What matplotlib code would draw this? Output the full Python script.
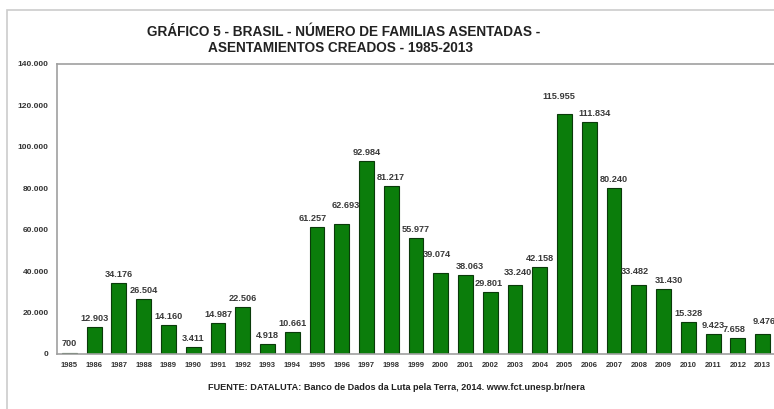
import matplotlib.pyplot as plt
from matplotlib.patches import Rectangle

anios = ["1985", "1986", "1987", "1988", "1989", "1990", "1991", "1992", "1993", "1994",
         "1995", "1996", "1997", "1998", "1999", "2000", "2001", "2002", "2003", "2004",
         "2005", "2006", "2007", "2008", "2009", "2010", "2011", "2012", "2013"]
familias = [700, 12903, 34176, 26504, 14160, 3411, 14987, 22506, 4918, 10661,
            61257, 62693, 92984, 81217, 55977, 39074, 38063, 29801, 33240, 42158,
            115955, 111834, 80240, 33482, 31430, 15328, 9423, 7658, 9476]
yticks = [0, 20000, 40000, 60000, 80000, 100000, 120000, 140000]

# ajustes de etiquetas (puntos) para que no se monten, como en el original
ajuste = {"1995": (-3, 0), "1996": (3, 7), "2000": (-3, 7), "2001": (3, 0),
          "2002": (-1, 0), "2003": (2, 3),
          "2005": (-4, 6), "2006": (4, 0), "2008": (-3, 3), "2009": (4, 0),
          "2012": (-3, 0), "2013": (1, 3)}


def miles(v):
    # separador de miles con punto
    return f"{v:,}".replace(",", ".")


plt.rcParams['font.family'] = ['Liberation Sans', 'DejaVu Sans']

fig = plt.figure(figsize=(7.74, 4.09), dpi=100)

# marco exterior
fig.patches.append(Rectangle((7 / 774, -0.05), 1.0, 1.05 - 10 / 409, transform=fig.transFigure,
                             fill=False, edgecolor="#cccccc", linewidth=1.2))

ax = fig.add_axes([57 / 774, 55 / 409, 718 / 774, 290 / 409])

x = range(len(anios))
ax.bar(x, familias, width=0.6, color="#0b7d0b", edgecolor="#0a3a0a", linewidth=0.8)

for i, v in enumerate(familias):
    dx, dy = ajuste.get(anios[i], (0, 0))
    ax.annotate(miles(v), (i, v), xytext=(dx, 3 + dy), textcoords="offset points",
                ha="center", va="bottom", fontsize=6.6, fontweight="bold", color="#3a3a3a")

ax.set_xlim(-0.5, len(anios) - 0.5)
ax.set_ylim(0, 140000)
ax.set_xticks(list(x))
ax.set_xticklabels(anios, fontsize=5.5, fontweight="bold", color="#333333")
ax.set_yticks(yticks)
ax.set_yticklabels([miles(t) for t in yticks], fontsize=6, fontweight="bold", color="#333333")
ax.tick_params(axis="both", length=0, pad=6)

for s in ax.spines.values():
    s.set_color("#a0a0a0")
    s.set_linewidth(1.2)

fig.text(344 / 774, 1 - 32 / 409, "GRÁFICO 5 - BRASIL - NÚMERO DE FAMILIAS ASENTADAS -",
         ha="center", va="center", fontsize=9.8, fontweight="bold", color="#222222")
fig.text(341 / 774, 1 - 48 / 409, "ASENTAMIENTOS CREADOS - 1985-2013",
         ha="center", va="center", fontsize=9.8, fontweight="bold", color="#222222")

fig.text(396 / 774, 1 - 387 / 409,
         "FUENTE: DATALUTA: Banco de Dados da Luta pela Terra, 2014. www.fct.unesp.br/nera",
         ha="center", va="center", fontsize=6.6, fontweight="bold", color="#222222")

fig.savefig("out.png", dpi=100)
